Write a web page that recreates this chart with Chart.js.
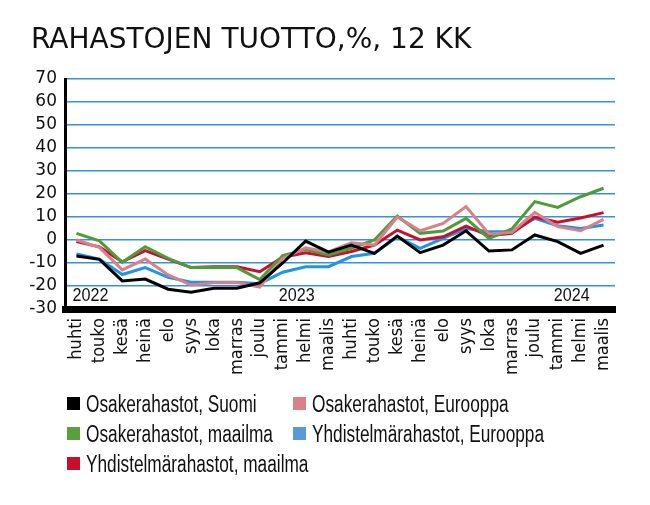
<!DOCTYPE html>
<html>
<head>
<meta charset="utf-8">
<script src="https://cdn.jsdelivr.net/npm/chart.js@4/dist/chart.umd.min.js"></script>
<style>
  html, body { margin: 0; padding: 0; background: #fff; }
  #wrap { position: relative; width: 650px; height: 505px; overflow: hidden; }
  #c { position: absolute; left: 0; top: 0; }
  #title { position: absolute; left: 31px; top: 25px; font-family: 'DejaVu Sans', sans-serif; font-size: 28px; line-height: 28px; color: #111; white-space: nowrap; }
  .lg-box { position: absolute; width: 13px; height: 13px; }
  .lg-txt { position: absolute; font-family: 'Liberation Sans', Arial, sans-serif; font-size: 23px; line-height: 23px; color: #111; white-space: nowrap; transform: scaleX(0.75); transform-origin: 0 0; }
</style>
</head>
<body>
<div id="wrap">
  <canvas id="c" width="650" height="505"></canvas>
  <div id="title">RAHASTOJEN TUOTTO,%, 12 KK</div>
  <div id="legend"></div>
</div>
<script>
const months = ['huhti','touko','kesä','heinä','elo','syys','loka','marras','joulu','tammi','helmi','maalis',
                'huhti','touko','kesä','heinä','elo','syys','loka','marras','joulu','tammi','helmi','maalis'];
const yearLabels = ['2022','2023','2024'];
const yearStartIndex = [0, 9, 21];

const seriesNames = ['Osakerahastot, Suomi','Osakerahastot, Eurooppa','Osakerahastot, maailma','Yhdistelmärahastot, Eurooppa','Yhdistelmärahastot, maailma'];
const suomi      = [-7, -8.4, -17.8, -17, -21.4, -22.7, -21, -21, -18.6, -10, -0.5, -5.3, -2.2, -5.8, 1.7, -5.5, -2.2, 4, -4.8, -4.3, 2.2, -0.7, -5.8, -2.2];
const eurooppa   = [0, -3.2, -13, -8.3, -15.2, -19.6, -18.6, -18.5, -20.5, -8, -3.4, -5.2, -1.2, -2.2, 10, 4, 7.2, 14.5, 2.6, 3.3, 12, 5.8, 4, 9];
const maailma    = [2.9, -0.4, -9.7, -2.9, -8, -12, -12, -12, -17.2, -6.8, -4.2, -6.5, -3.6, 0, 10.4, 2.9, 3.9, 9.4, 0.7, 4.8, 16.7, 14.2, 18.8, 22.5];
const yhdEurooppa= [-6.1, -8.3, -15, -12, -16.2, -18.4, -18.4, -18.4, -19, -14, -11.6, -11.6, -7.2, -5.8, 1.4, -3.6, 0.7, 5, 3.6, 3.6, 9.4, 6.2, 5, 6.5];
const yhdMaailma = [-0.7, -3, -9.5, -4.6, -8.3, -12, -11.6, -11.6, -13.8, -7.5, -5.6, -7.2, -5, -2.2, 4.3, 0, 1.4, 6, 1.9, 2.9, 10, 7.7, 9.6, 11.9];

const lineColors = ['#000000', '#d9808a', '#4f9b3a', '#2196e0', '#c8102e'];
const boxColors  = ['#000000', '#d9808a', '#5a9e3e', '#5b9bd5', '#c8102e'];
const drawOrder  = [0, 1, 2, 4, 3];
const allData = [suomi, eurooppa, maailma, yhdEurooppa, yhdMaailma];

const datasets = allData.map((d, i) => ({
  label: seriesNames[i],
  data: d,
  borderColor: lineColors[i],
  backgroundColor: lineColors[i],
  borderWidth: 3,
  pointRadius: 0,
  tension: 0,
  fill: false,
  order: drawOrder[i]
}));

const yearPlugin = {
  id: 'years',
  afterDraw(chart) {
    const ctx = chart.ctx;
    const xs = chart.scales.x;
    const area = chart.chartArea;
    ctx.save();
    ctx.font = "19px 'Liberation Sans', Arial, sans-serif";
    ctx.fillStyle = '#111';
    ctx.textAlign = 'left';
    ctx.textBaseline = 'alphabetic';
    yearLabels.forEach((t, k) => {
      const px = xs.getPixelForValue(yearStartIndex[k]);
      ctx.save();
      ctx.translate(px - 4, area.bottom - 8);
      ctx.scale(0.85, 1);
      ctx.fillText(t, 0, 0);
      ctx.restore();
    });
    ctx.restore();
  }
};

new Chart(document.getElementById('c'), {
  type: 'line',
  data: { labels: months, datasets },
  options: {
    responsive: false,
    animation: false,
    devicePixelRatio: 1,
    layout: { padding: { top: 79, right: 35, bottom: 126, left: 0 } },
    plugins: { legend: { display: false }, tooltip: { enabled: false } },
    scales: {
      x: {
        offset: true,
        grid: { display: false, drawTicks: false },
        border: { display: true, color: '#000', width: 7 },
        ticks: {
          autoSkip: false, minRotation: 90, maxRotation: 90, padding: 9,
          color: '#111',
          font: { family: "'DejaVu Sans Condensed', 'DejaVu Sans', sans-serif", size: 18 }
        },
        afterFit(s) { s.height = 70; }
      },
      y: {
        min: -30, max: 70,
        ticks: {
          stepSize: 10, autoSkip: false, padding: 8, color: '#111',
          font: { family: "'DejaVu Sans', sans-serif", size: 17 }
        },
        grid: { color: '#3592dc', lineWidth: 1.5, drawTicks: false },
        border: { display: true, color: '#000', width: 3 },
        afterFit(s) { s.width = 65; }
      }
    }
  },
  plugins: [yearPlugin]
});

// legend (HTML, two columns)
const legendPos = [[67, 396], [293, 396], [67, 426], [293, 426], [67, 456]];
const lg = document.getElementById('legend');
seriesNames.forEach((name, i) => {
  const [x, y] = legendPos[i];
  const b = document.createElement('div');
  b.className = 'lg-box';
  b.style.left = x + 'px';
  b.style.top = (y + 1) + 'px';
  b.style.background = boxColors[i];
  const t = document.createElement('div');
  t.className = 'lg-txt';
  t.style.left = (x + 19) + 'px';
  t.style.top = (y - 3) + 'px';
  t.textContent = name;
  lg.appendChild(b);
  lg.appendChild(t);
});
</script>
</body>
</html>
